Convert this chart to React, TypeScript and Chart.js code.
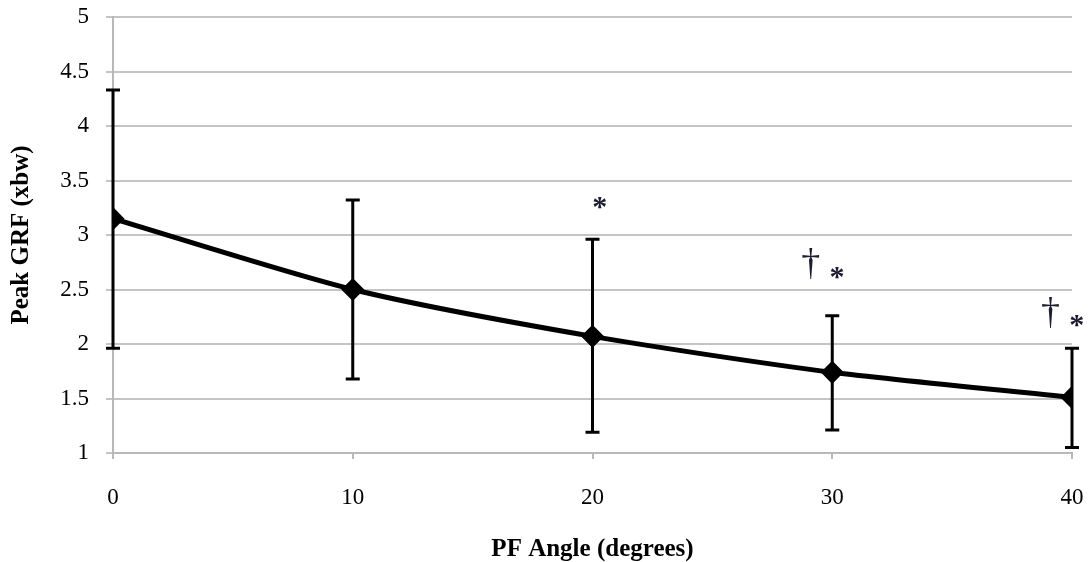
import React, { useEffect, useRef } from "react";
import { Chart, registerables } from "chart.js";

Chart.register(...registerables);

const angles = [0, 10, 20, 30, 40];
const peakGRF = [3.15, 2.5, 2.07, 1.74, 1.51];
const errUpper = [4.33, 3.32, 2.96, 2.26, 1.96];
const errLower = [1.96, 1.68, 1.19, 1.21, 1.05];

const markX = [20.3, 29.1, 30.2, 39.1, 40.2];
const markY = [3.3, 2.74, 2.66, 2.29, 2.22];
const markText = ["*", "†", "*", "†", "*"];

const FONT = "'Liberation Serif', 'DejaVu Serif', serif";

const errorBarPlugin = {
  id: "errorBars",
  afterDatasetsDraw(chart: any) {
    const { ctx, scales } = chart;
    const xs = scales.x;
    const ys = scales.y;
    ctx.save();
    ctx.strokeStyle = "#000";
    ctx.lineWidth = 3;
    ctx.lineCap = "butt";
    for (let i = 0; i < angles.length; i++) {
      const x = xs.getPixelForValue(angles[i]);
      const yt = ys.getPixelForValue(errUpper[i]);
      const yb = ys.getPixelForValue(errLower[i]);
      ctx.beginPath();
      ctx.moveTo(x, yt);
      ctx.lineTo(x, yb);
      ctx.moveTo(x - 7, yt);
      ctx.lineTo(x + 7, yt);
      ctx.moveTo(x - 7, yb);
      ctx.lineTo(x + 7, yb);
      ctx.stroke();
    }
    ctx.textAlign = "center";
    ctx.textBaseline = "middle";
    ctx.fillStyle = "#1c1c30";
    for (let i = 0; i < markText.length; i++) {
      const x = xs.getPixelForValue(markX[i]);
      const y = ys.getPixelForValue(markY[i]);
      const isStar = markText[i] === "*";
      ctx.font = isStar ? `bold 30px ${FONT}` : `38px ${FONT}`;
      ctx.fillText(markText[i], x, isStar ? y + 6 : y + 2);
    }
    ctx.restore();
  },
};

export default function App() {
  const ref = useRef<HTMLCanvasElement | null>(null);
  useEffect(() => {
    if (!ref.current) return;
    const chart = new Chart(ref.current, {
      type: "line",
      data: {
        datasets: [
          {
            data: angles.map((a, i) => ({ x: a, y: peakGRF[i] })),
            borderColor: "#000",
            backgroundColor: "#000",
            borderWidth: 5,
            pointStyle: "rectRot",
            pointRadius: 8,
            pointBackgroundColor: "#000",
            pointBorderColor: "#000",
            tension: 0.25,
          },
        ],
      },
      options: {
        responsive: false,
        animation: false,
        layout: { padding: { top: 17, right: 18, left: 0, bottom: 0 } },
        plugins: { legend: { display: false }, tooltip: { enabled: false } },
        scales: {
          x: {
            type: "linear",
            min: 0,
            max: 40,
            ticks: {
              stepSize: 10,
              color: "#000",
              padding: 25,
              maxRotation: 0,
              font: { family: FONT, size: 23 },
            },
            grid: {
              drawOnChartArea: false,
              drawTicks: true,
              tickLength: 6,
              color: "#b8b8b8",
              lineWidth: 2,
            },
            border: { display: true, color: "#b8b8b8", width: 2 },
            title: {
              display: true,
              text: "PF Angle (degrees)",
              color: "#000",
              font: { family: FONT, size: 25, weight: "bold", lineHeight: 1.0 },
              padding: { top: 22, bottom: 0 },
            },
            afterFit: (s: any) => {
              s.height = 109;
              s.paddingLeft = 0;
              s.paddingRight = 0;
            },
          },
          y: {
            min: 1,
            max: 5,
            ticks: {
              stepSize: 0.5,
              color: "#000",
              padding: 17,
              font: { family: FONT, size: 23 },
              callback: (v: any) => String(Number(v)),
            },
            grid: {
              color: "#c4c4c4",
              lineWidth: 2,
              tickLength: 7,
            },
            border: { display: true, color: "#b8b8b8", width: 2 },
            title: {
              display: true,
              text: "Peak GRF (xbw)",
              color: "#000",
              font: { family: FONT, size: 25, weight: "bold" },
              padding: { top: 7, bottom: 4 },
            },
            afterFit: (s: any) => {
              s.width = 113;
              s.paddingTop = 0;
              s.paddingBottom = 0;
            },
          },
        },
      },
      plugins: [errorBarPlugin],
    });
    return () => chart.destroy();
  }, []);
  return (
    <div style={{ position: "fixed", left: 0, top: 0, width: 1090, height: 562, background: "#fff" }}>
      <canvas ref={ref} width={1090} height={562} />
    </div>
  );
}
